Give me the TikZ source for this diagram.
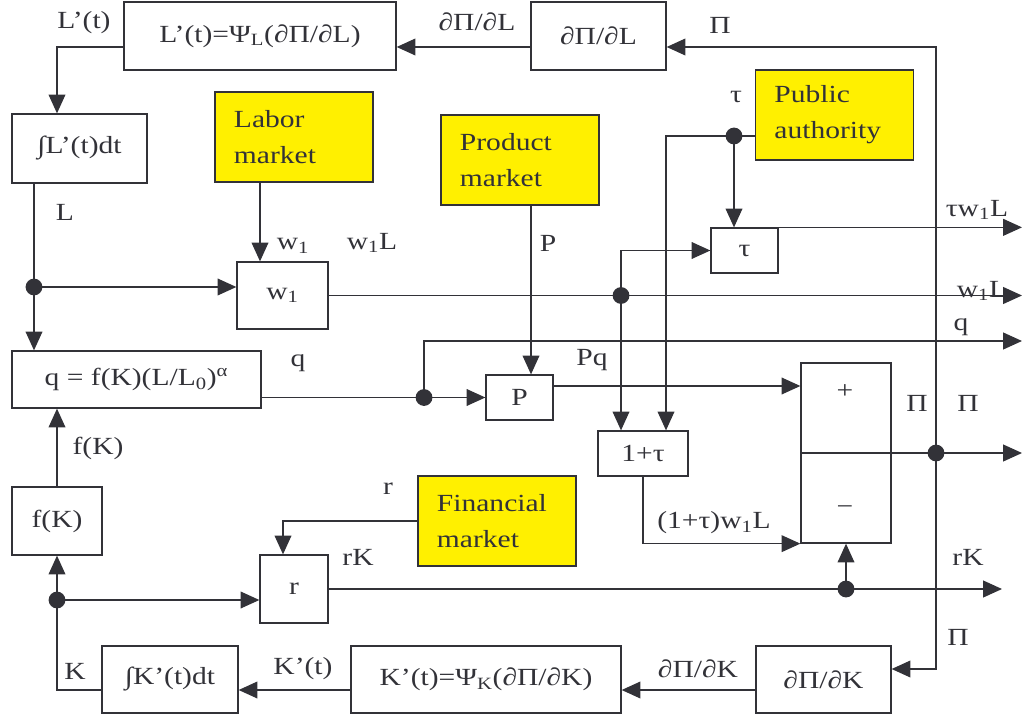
\documentclass[tikz,border=0pt]{standalone}
\usepackage{fontspec}
\setmainfont{Liberation Serif}[FakeStretch=1.2]
\usetikzlibrary{arrows.meta}
\definecolor{ink}{RGB}{50,50,56}
\definecolor{mktyellow}{RGB}{255,240,0}
\tikzset{
  blk/.style 2 args={ % plain operator block
    draw=ink, line width=0.9pt, fill=white, text=ink,
    minimum width=#1, minimum height=#2, inner sep=0pt
  },
  mkt/.style={ % yellow market / authority box
    draw=ink, line width=0.9pt, fill=mktyellow, text=ink,
    minimum height=2.25cm, text width=3.0cm, inner xsep=0.475cm,
    align=left
  },
  lbl/.style={text=ink, inner sep=0pt},
  sig/.style={draw=ink, line width=0.9pt, -{Triangle[length=0.47cm,width=0.42cm]}},
  jct/.style={fill=ink} % junction dot
}

\begin{document}
\begin{tikzpicture}[x=0.025cm, y=-0.025cm, font=\fontsize{17.5}{25.5}\selectfont]
  \useasboundingbox (0,0) rectangle (1025,715);

  % blocks
  \node[blk={6.8cm}{1.7cm}] (lpeq) at (260,36) {L’(t)=Ψ\textsubscript{L}(∂Π/∂L)};
  \node[blk={3.375cm}{1.7cm}] (dpl) at (598.5,36) {∂Π/∂L};
  \node[blk={3.375cm}{1.725cm}] (intl) at (79.5,148.5) {∫L’(t)dt};
  \node[mkt] (labor) at (294,137) {Labor\\market};
  \node[mkt] (product) at (520,160) {Product\\market};
  \node[mkt] (public) at (834.5,115) {Public\\authority};
  \node[blk={2.275cm}{1.675cm}] (wbox) at (282.5,295.5) {w\textsubscript{1}};
  \node[blk={1.675cm}{1.125cm}] (taubox) at (744.5,250.5) {τ};
  \node[blk={6.225cm}{1.425cm}] (qbox) at (136.5,379.5) {q = f(K)(L/L\textsubscript{0})\textsuperscript{α}};
  \node[blk={1.675cm}{1.125cm}] (pbox) at (519.5,397.5) {P};
  \node[blk={2.25cm}{1.125cm}] (onetau) at (643,453.5) {1+τ};
  \node[blk={2.25cm}{4.5cm}] (sum) at (846,453) {};
  \node[blk={2.25cm}{1.7cm}] (fk) at (57,521) {f(K)};
  \node[mkt] (fin) at (497,521) {Financial\\market};
  \node[blk={1.7cm}{1.7cm}] (rbox) at (294,589) {r};
  \node[blk={3.4cm}{1.675cm}] (intk) at (170,679.5) {∫K’(t)dt};
  \node[blk={6.75cm}{1.675cm}] (kpeq) at (486,679.5) {K’(t)=Ψ\textsubscript{K}(∂Π/∂K)};
  \node[blk={3.375cm}{1.675cm}] (dpk) at (823.5,679.5) {∂Π/∂K};

  \draw[ink, line width=0.9pt] (sum.west) -- (sum.east);
  \node[lbl] (plus) at (845,392) {+};
  \node[lbl] (minus) at (845,510) {−};

  % bends and junctions
  \coordinate (rim) at (1022,0);
  \coordinate (rend) at (1002,0);
  \coordinate (pitop) at (936,47);
  \coordinate (pidot) at (936,453);
  \coordinate (pibot) at (936,669);
  \coordinate (lbend) at (57,47);
  \coordinate (ldot) at (34,287);
  \coordinate (wx) at (260,0);
  \coordinate (wdot) at (621,295.5);
  \coordinate (taudot) at (734,136);
  \coordinate (taucorner) at (666,136);
  \coordinate (px) at (531,0);
  \coordinate (qdot) at (424,397.5);
  \coordinate (qtop) at (424,341);
  \coordinate (pqy) at (0,386);
  \coordinate (rx) at (283,521);
  \coordinate (krow) at (0,690);
  \coordinate (kdot) at (57,600);

  % profit feedback
  \draw[sig] (pidot) -- (pitop) -- (pitop -| dpl.east);
  \draw[sig] (pidot) -- (pibot) -- (pibot -| dpk.east);
  \draw[sig] (sum.east) -- (sum.east -| rim);
  % labour loop
  \draw[sig] (pitop -| dpl.west) -- (pitop -| lpeq.east);
  \draw[sig] (pitop -| lpeq.west) -- (lbend) -- (lbend |- intl.north);
  \draw[sig] (ldot |- intl.south) -- (ldot |- qbox.north);
  \draw[sig] (ldot) -- (ldot -| wbox.west);
  \draw[sig] (labor.south -| wx) -- (wbox.north -| wx);
  \draw[sig] (wbox.east) -- (wbox.east -| rim);
  % taxes
  \draw[sig] (wdot) |- (taubox.west);
  \draw[sig] (wdot) -- (wdot |- onetau.north);
  \draw[sig] (public.west |- taudot) -- (taucorner) -- (taucorner |- onetau.north);
  \draw[sig] (taudot) -- (taudot |- taubox.north);
  \draw[sig] (taubox.north east) -- (taubox.north east -| rim);
  % product
  \draw[sig] (product.south -| px) -- (pbox.north -| px);
  \draw[sig] (qbox.east |- qdot) -- (pbox.west);
  \draw[sig] (qdot) -- (qtop) -- (qtop -| rim);
  \draw[sig] (pbox.east |- pqy) -- (sum.west |- pqy);
  \draw[sig] (onetau.south) -- (onetau.south |- sum.south) -- (sum.south west);
  % capital loop
  \draw[sig] (fin.west) -- (rx) -- (rx |- rbox.north);
  \draw[sig] (rbox.east) -- (rbox.east -| rend);
  \draw[sig] (sum.south |- rbox.east) -- (sum.south);
  \draw[sig] (fk.north) -- (fk.north |- qbox.south);
  \draw[sig] (intk.west |- krow) -- (fk.south |- krow) -- (fk.south);
  \draw[sig] (kdot) -- (kdot -| rbox.west);
  \draw[sig] (kpeq.west |- krow) -- (intk.east |- krow);
  \draw[sig] (dpk.west |- krow) -- (kpeq.east |- krow);

  \foreach \j in {pidot,ldot,wdot,taudot,qdot,kdot}
    \fill[jct] (\j) circle (0.21cm);
  \fill[jct] (sum.south |- rbox.east) circle (0.21cm);

  % signal labels
  \node[lbl] (l_lprime) at (84,23) {L’(t)};
  \node[lbl] (l_dpl) at (477,22) {∂Π/∂L};
  \node[lbl] (l_pitop) at (720,25) {Π};
  \node[lbl] (l_tau) at (736,97) {τ};
  \node[lbl] (l_l) at (65,212) {L};
  \node[lbl] (l_w) at (293,246) {w\textsubscript{1}};
  \node[lbl] (l_wl) at (372,243) {w\textsubscript{1}L};
  \node[lbl] (l_p) at (548,243) {P};
  \node[lbl] (l_tauwl) at (977,210) {τw\textsubscript{1}L};
  \node[lbl] (l_wlout) at (982,291) {w\textsubscript{1}L};
  \node[lbl] (l_qout) at (961,327) {q};
  \node[lbl] (l_q) at (298,363) {q};
  \node[lbl] (l_pq) at (592,360) {Pq};
  \node[lbl] (l_pil) at (917,403) {Π};
  \node[lbl] (l_pir) at (968,403) {Π};
  \node[lbl] (l_fk) at (98,448) {f(K)};
  \node[lbl] (l_r) at (388,489) {r};
  \node[lbl] (l_rk) at (358,557) {rK};
  \node[lbl] (l_cost) at (714,523) {(1+τ)w\textsubscript{1}L};
  \node[lbl] (l_rkout) at (968,557) {rK};
  \node[lbl] (l_pibot) at (958,637) {Π};
  \node[lbl] (l_k) at (75,671) {K};
  \node[lbl] (l_kprime) at (303,669) {K’(t)};
  \node[lbl] (l_dpk) at (698,669) {∂Π/∂K};
\end{tikzpicture}
\end{document}
